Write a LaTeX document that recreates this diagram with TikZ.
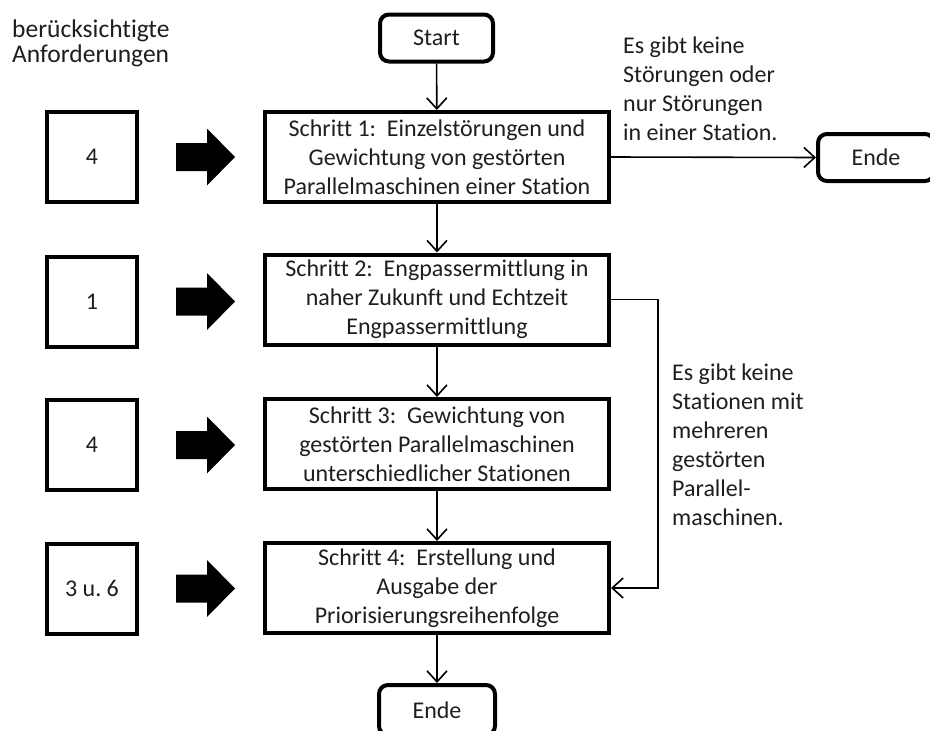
\documentclass[tikz,border=0pt]{standalone}
\usepackage{fontspec}
\setmainfont{Carlito}[Ligatures=NoCommon]
\usetikzlibrary{arrows.meta}
\definecolor{ink}{RGB}{30,30,30}
\begin{document}
\begin{tikzpicture}[x=1pt,y=-1pt,
  every node/.style={font=\fontsize{24}{29}\selectfont, text=ink},
  stepbox/.style={draw=black, line width=4pt, minimum width=344pt, minimum height=90pt,
    align=center, inner sep=0pt},
  termbox/.style={draw=black, line width=4pt, rounded corners=9pt, minimum width=113pt,
    minimum height=47pt, inner sep=0pt},
  reqbox/.style={draw=black, line width=4pt, minimum width=90pt, minimum height=90pt,
    inner sep=0pt},
  conn/.style={draw=black, line width=1.6pt, -{Straight Barb[length=11pt,width=20pt,line width=1.6pt]}},
  note/.style={align=left, inner sep=0pt, anchor=west},
  blockarrow/.style={fill=black, draw=none}
]
\useasboundingbox (0,0) rectangle (930,731);
\clip (0,0) rectangle (930,731);

% heading of the requirement column
\node[note, font=\fontsize{25.5}{25}\selectfont] (head) at (12,43)
  {berücksichtigte\\Anforderungen};

% terminals
\node[termbox] (start) at (436.5,38) {Start};
\node[termbox, minimum width=116pt] (endA) at (876,157.5) {Ende};
\node[termbox, minimum width=116pt, minimum height=50pt] (endB) at (437,710) {Ende};

% process steps
\node[stepbox] (s1) at (437,157) {Schritt 1:\ \ Einzelstörungen und\\Gewichtung von gestörten\\Parallelmaschinen einer Station};
\node[stepbox] (s2) at (437,299.5) {Schritt 2:\ \ Engpassermittlung in\\naher Zukunft und Echtzeit\\Engpassermittlung};
\node[stepbox] (s3) at (437,444) {Schritt 3:\ \ Gewichtung von\\gestörten Parallelmaschinen\\unterschiedlicher Stationen};
\node[stepbox] (s4) at (437,588) {Schritt 4:\ \ Erstellung und\\Ausgabe der\\Priorisierungsreihenfolge};

% requirement boxes
\node[reqbox] (r1) at (92,157) {4};
\node[reqbox] (r2) at (92,301.5) {1};
\node[reqbox] (r3) at (92,445) {4};
\node[reqbox] (r4) at (92,588.5) {3 u.\ 6};

% block arrows between requirement boxes and steps
\foreach \yy in {157,301.5,445,588.5}{
  \fill[blockarrow] (176,\yy-14) -- (207,\yy-14) -- (207,\yy-28.5) -- (235,\yy)
    -- (207,\yy+28.5) -- (207,\yy+14) -- (176,\yy+14) -- cycle;
}

% main flow
\draw[conn] (start) -- (s1);
\draw[conn] (s1) -- (s2);
\draw[conn] (s2) -- (s3);
\draw[conn] (s3) -- (s4);
\draw[conn] (s4) -- (endB);

% early exit and bypass
\draw[conn] (s1.east) -- (endA.west);
\coordinate (byp) at (658,299.5);
\draw[conn] (s2.east) -- (byp) |- (s4.east);

% branch conditions
\node[note] (c1) at (623,89) {Es gibt keine\\Störungen oder\\nur Störungen\\in einer Station.};
\node[note] (c2) at (672,445) {Es gibt keine\\Stationen mit\\mehreren\\gestörten\\Parallel-\\maschinen.};
\end{tikzpicture}
\end{document}
